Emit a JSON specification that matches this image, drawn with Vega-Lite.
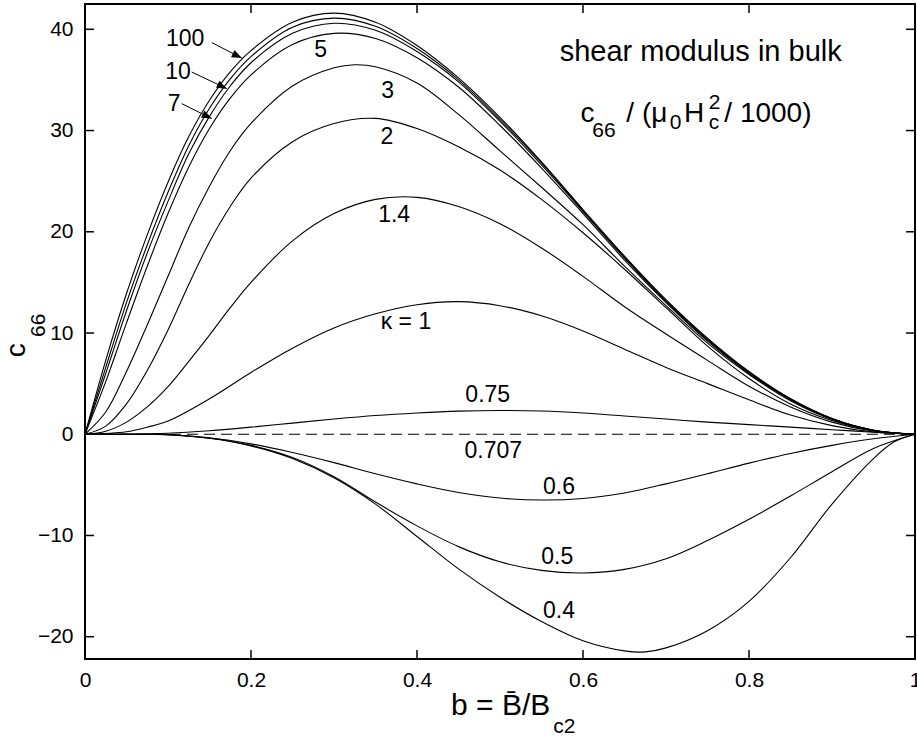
{
  "$schema": "https://vega.github.io/schema/vega-lite/v6.json",
  "width": 830,
  "height": 655,
  "autosize": {"type": "none"},
  "padding": {"left": 85, "top": 4, "right": 2, "bottom": 83},
  "background": "white",
  "config": {
    "view": {"stroke": "black", "strokeWidth": 2},
    "font": "Liberation Sans",
    "axis": {
      "grid": false,
      "domain": false,
      "labelColor": "black",
      "labelFont": "Liberation Sans",
      "labelFontSize": 21,
      "labelFlush": false,
      "labelOverlap": false
    }
  },
  "datasets": {
    "curves": [
      {"kappa": "100", "b": 0, "c": 0}, {"kappa": "100", "b": 0.025, "c": 7.3}, {"kappa": "100", "b": 0.05, "c": 13.9}, {"kappa": "100", "b": 0.075, "c": 19.7}, {"kappa": "100", "b": 0.1, "c": 24.9}, {"kappa": "100", "b": 0.125, "c": 29.4}, {"kappa": "100", "b": 0.15, "c": 33.0}, {"kappa": "100", "b": 0.175, "c": 35.8}, {"kappa": "100", "b": 0.2, "c": 37.9}, {"kappa": "100", "b": 0.25, "c": 40.7}, {"kappa": "100", "b": 0.3, "c": 41.6}, {"kappa": "100", "b": 0.35, "c": 40.7}, {"kappa": "100", "b": 0.4, "c": 38.4}, {"kappa": "100", "b": 0.45, "c": 35.2}, {"kappa": "100", "b": 0.5, "c": 31.3}, {"kappa": "100", "b": 0.55, "c": 26.9}, {"kappa": "100", "b": 0.6, "c": 22.2}, {"kappa": "100", "b": 0.65, "c": 17.6}, {"kappa": "100", "b": 0.7, "c": 13.3}, {"kappa": "100", "b": 0.75, "c": 9.5}, {"kappa": "100", "b": 0.8, "c": 6.2}, {"kappa": "100", "b": 0.85, "c": 3.5}, {"kappa": "100", "b": 0.9, "c": 1.55}, {"kappa": "100", "b": 0.95, "c": 0.4}, {"kappa": "100", "b": 1, "c": 0},
      {"kappa": "10", "b": 0, "c": 0}, {"kappa": "10", "b": 0.025, "c": 6.6}, {"kappa": "10", "b": 0.05, "c": 13.0}, {"kappa": "10", "b": 0.075, "c": 18.7}, {"kappa": "10", "b": 0.1, "c": 23.9}, {"kappa": "10", "b": 0.125, "c": 28.5}, {"kappa": "10", "b": 0.15, "c": 32.2}, {"kappa": "10", "b": 0.175, "c": 35.1}, {"kappa": "10", "b": 0.2, "c": 37.3}, {"kappa": "10", "b": 0.25, "c": 40.2}, {"kappa": "10", "b": 0.3, "c": 41.1}, {"kappa": "10", "b": 0.35, "c": 40.3}, {"kappa": "10", "b": 0.4, "c": 38.1}, {"kappa": "10", "b": 0.45, "c": 35.0}, {"kappa": "10", "b": 0.5, "c": 31.1}, {"kappa": "10", "b": 0.55, "c": 26.8}, {"kappa": "10", "b": 0.6, "c": 22.1}, {"kappa": "10", "b": 0.65, "c": 17.5}, {"kappa": "10", "b": 0.7, "c": 13.2}, {"kappa": "10", "b": 0.75, "c": 9.4}, {"kappa": "10", "b": 0.8, "c": 6.15}, {"kappa": "10", "b": 0.85, "c": 3.5}, {"kappa": "10", "b": 0.9, "c": 1.55}, {"kappa": "10", "b": 0.95, "c": 0.4}, {"kappa": "10", "b": 1, "c": 0},
      {"kappa": "7", "b": 0, "c": 0}, {"kappa": "7", "b": 0.025, "c": 6.0}, {"kappa": "7", "b": 0.05, "c": 12.2}, {"kappa": "7", "b": 0.075, "c": 17.9}, {"kappa": "7", "b": 0.1, "c": 23.0}, {"kappa": "7", "b": 0.125, "c": 27.7}, {"kappa": "7", "b": 0.15, "c": 31.4}, {"kappa": "7", "b": 0.175, "c": 34.4}, {"kappa": "7", "b": 0.2, "c": 36.7}, {"kappa": "7", "b": 0.25, "c": 39.6}, {"kappa": "7", "b": 0.3, "c": 40.6}, {"kappa": "7", "b": 0.35, "c": 39.9}, {"kappa": "7", "b": 0.4, "c": 37.8}, {"kappa": "7", "b": 0.45, "c": 34.8}, {"kappa": "7", "b": 0.5, "c": 30.9}, {"kappa": "7", "b": 0.55, "c": 26.6}, {"kappa": "7", "b": 0.6, "c": 22.0}, {"kappa": "7", "b": 0.65, "c": 17.4}, {"kappa": "7", "b": 0.7, "c": 13.1}, {"kappa": "7", "b": 0.75, "c": 9.3}, {"kappa": "7", "b": 0.8, "c": 6.1}, {"kappa": "7", "b": 0.85, "c": 3.45}, {"kappa": "7", "b": 0.9, "c": 1.52}, {"kappa": "7", "b": 0.95, "c": 0.39}, {"kappa": "7", "b": 1, "c": 0},
      {"kappa": "5", "b": 0, "c": 0}, {"kappa": "5", "b": 0.025, "c": 5.2}, {"kappa": "5", "b": 0.05, "c": 11.0}, {"kappa": "5", "b": 0.075, "c": 16.6}, {"kappa": "5", "b": 0.1, "c": 21.8}, {"kappa": "5", "b": 0.125, "c": 26.4}, {"kappa": "5", "b": 0.15, "c": 30.2}, {"kappa": "5", "b": 0.175, "c": 33.2}, {"kappa": "5", "b": 0.2, "c": 35.5}, {"kappa": "5", "b": 0.25, "c": 38.5}, {"kappa": "5", "b": 0.3, "c": 39.6}, {"kappa": "5", "b": 0.35, "c": 39.1}, {"kappa": "5", "b": 0.4, "c": 37.2}, {"kappa": "5", "b": 0.45, "c": 34.3}, {"kappa": "5", "b": 0.5, "c": 30.5}, {"kappa": "5", "b": 0.55, "c": 26.3}, {"kappa": "5", "b": 0.6, "c": 21.8}, {"kappa": "5", "b": 0.65, "c": 17.2}, {"kappa": "5", "b": 0.7, "c": 13.0}, {"kappa": "5", "b": 0.75, "c": 9.2}, {"kappa": "5", "b": 0.8, "c": 6.0}, {"kappa": "5", "b": 0.85, "c": 3.4}, {"kappa": "5", "b": 0.9, "c": 1.5}, {"kappa": "5", "b": 0.95, "c": 0.38}, {"kappa": "5", "b": 1, "c": 0},
      {"kappa": "3", "b": 0, "c": 0}, {"kappa": "3", "b": 0.025, "c": 2.2}, {"kappa": "3", "b": 0.05, "c": 6.2}, {"kappa": "3", "b": 0.075, "c": 10.8}, {"kappa": "3", "b": 0.1, "c": 15.6}, {"kappa": "3", "b": 0.125, "c": 20.4}, {"kappa": "3", "b": 0.15, "c": 24.5}, {"kappa": "3", "b": 0.175, "c": 28.0}, {"kappa": "3", "b": 0.2, "c": 30.7}, {"kappa": "3", "b": 0.25, "c": 34.4}, {"kappa": "3", "b": 0.3, "c": 36.2}, {"kappa": "3", "b": 0.325, "c": 36.5}, {"kappa": "3", "b": 0.35, "c": 36.3}, {"kappa": "3", "b": 0.4, "c": 34.7}, {"kappa": "3", "b": 0.45, "c": 31.6}, {"kappa": "3", "b": 0.5, "c": 28.0}, {"kappa": "3", "b": 0.55, "c": 24.4}, {"kappa": "3", "b": 0.6, "c": 20.7}, {"kappa": "3", "b": 0.65, "c": 16.6}, {"kappa": "3", "b": 0.7, "c": 12.7}, {"kappa": "3", "b": 0.75, "c": 9.0}, {"kappa": "3", "b": 0.8, "c": 5.9}, {"kappa": "3", "b": 0.85, "c": 3.3}, {"kappa": "3", "b": 0.9, "c": 1.45}, {"kappa": "3", "b": 0.95, "c": 0.37}, {"kappa": "3", "b": 1, "c": 0},
      {"kappa": "2", "b": 0, "c": 0}, {"kappa": "2", "b": 0.025, "c": 0.8}, {"kappa": "2", "b": 0.05, "c": 3.0}, {"kappa": "2", "b": 0.075, "c": 6.3}, {"kappa": "2", "b": 0.1, "c": 10.3}, {"kappa": "2", "b": 0.125, "c": 14.8}, {"kappa": "2", "b": 0.15, "c": 19.0}, {"kappa": "2", "b": 0.175, "c": 22.5}, {"kappa": "2", "b": 0.2, "c": 25.3}, {"kappa": "2", "b": 0.25, "c": 28.9}, {"kappa": "2", "b": 0.3, "c": 30.7}, {"kappa": "2", "b": 0.35, "c": 31.2}, {"kappa": "2", "b": 0.4, "c": 30.2}, {"kappa": "2", "b": 0.45, "c": 28.4}, {"kappa": "2", "b": 0.5, "c": 26.1}, {"kappa": "2", "b": 0.55, "c": 23.2}, {"kappa": "2", "b": 0.6, "c": 19.9}, {"kappa": "2", "b": 0.65, "c": 16.3}, {"kappa": "2", "b": 0.7, "c": 12.5}, {"kappa": "2", "b": 0.75, "c": 8.7}, {"kappa": "2", "b": 0.8, "c": 5.5}, {"kappa": "2", "b": 0.85, "c": 3.0}, {"kappa": "2", "b": 0.9, "c": 1.35}, {"kappa": "2", "b": 0.95, "c": 0.35}, {"kappa": "2", "b": 1, "c": 0},
      {"kappa": "1.4", "b": 0, "c": 0}, {"kappa": "1.4", "b": 0.025, "c": 0.3}, {"kappa": "1.4", "b": 0.05, "c": 1.2}, {"kappa": "1.4", "b": 0.075, "c": 2.7}, {"kappa": "1.4", "b": 0.1, "c": 4.7}, {"kappa": "1.4", "b": 0.125, "c": 7.2}, {"kappa": "1.4", "b": 0.15, "c": 9.8}, {"kappa": "1.4", "b": 0.175, "c": 12.5}, {"kappa": "1.4", "b": 0.2, "c": 15.0}, {"kappa": "1.4", "b": 0.25, "c": 19.1}, {"kappa": "1.4", "b": 0.3, "c": 21.8}, {"kappa": "1.4", "b": 0.35, "c": 23.2}, {"kappa": "1.4", "b": 0.4, "c": 23.4}, {"kappa": "1.4", "b": 0.45, "c": 22.5}, {"kappa": "1.4", "b": 0.5, "c": 20.8}, {"kappa": "1.4", "b": 0.55, "c": 18.4}, {"kappa": "1.4", "b": 0.6, "c": 15.6}, {"kappa": "1.4", "b": 0.65, "c": 12.6}, {"kappa": "1.4", "b": 0.7, "c": 9.9}, {"kappa": "1.4", "b": 0.75, "c": 7.3}, {"kappa": "1.4", "b": 0.8, "c": 4.75}, {"kappa": "1.4", "b": 0.85, "c": 2.7}, {"kappa": "1.4", "b": 0.9, "c": 1.2}, {"kappa": "1.4", "b": 0.95, "c": 0.3}, {"kappa": "1.4", "b": 1, "c": 0},
      {"kappa": "1", "b": 0, "c": 0}, {"kappa": "1", "b": 0.05, "c": 0.25}, {"kappa": "1", "b": 0.075, "c": 0.7}, {"kappa": "1", "b": 0.1, "c": 1.3}, {"kappa": "1", "b": 0.15, "c": 3.5}, {"kappa": "1", "b": 0.2, "c": 6.1}, {"kappa": "1", "b": 0.25, "c": 8.5}, {"kappa": "1", "b": 0.3, "c": 10.5}, {"kappa": "1", "b": 0.35, "c": 11.9}, {"kappa": "1", "b": 0.4, "c": 12.8}, {"kappa": "1", "b": 0.45, "c": 13.1}, {"kappa": "1", "b": 0.5, "c": 12.7}, {"kappa": "1", "b": 0.55, "c": 11.7}, {"kappa": "1", "b": 0.6, "c": 10.2}, {"kappa": "1", "b": 0.65, "c": 8.4}, {"kappa": "1", "b": 0.7, "c": 6.6}, {"kappa": "1", "b": 0.75, "c": 5.0}, {"kappa": "1", "b": 0.8, "c": 3.4}, {"kappa": "1", "b": 0.85, "c": 1.9}, {"kappa": "1", "b": 0.9, "c": 0.85}, {"kappa": "1", "b": 0.95, "c": 0.22}, {"kappa": "1", "b": 1, "c": 0},
      {"kappa": "0.75", "b": 0, "c": 0}, {"kappa": "0.75", "b": 0.05, "c": 0.0}, {"kappa": "0.75", "b": 0.1, "c": 0.1}, {"kappa": "0.75", "b": 0.15, "c": 0.35}, {"kappa": "0.75", "b": 0.2, "c": 0.7}, {"kappa": "0.75", "b": 0.25, "c": 1.1}, {"kappa": "0.75", "b": 0.3, "c": 1.5}, {"kappa": "0.75", "b": 0.35, "c": 1.85}, {"kappa": "0.75", "b": 0.4, "c": 2.1}, {"kappa": "0.75", "b": 0.45, "c": 2.28}, {"kappa": "0.75", "b": 0.5, "c": 2.35}, {"kappa": "0.75", "b": 0.55, "c": 2.3}, {"kappa": "0.75", "b": 0.6, "c": 2.1}, {"kappa": "0.75", "b": 0.65, "c": 1.8}, {"kappa": "0.75", "b": 0.7, "c": 1.5}, {"kappa": "0.75", "b": 0.75, "c": 1.2}, {"kappa": "0.75", "b": 0.8, "c": 0.95}, {"kappa": "0.75", "b": 0.85, "c": 0.7}, {"kappa": "0.75", "b": 0.9, "c": 0.45}, {"kappa": "0.75", "b": 0.95, "c": 0.2}, {"kappa": "0.75", "b": 1, "c": 0},
      {"kappa": "0.6", "b": 0, "c": 0}, {"kappa": "0.6", "b": 0.05, "c": 0}, {"kappa": "0.6", "b": 0.1, "c": -0.05}, {"kappa": "0.6", "b": 0.15, "c": -0.35}, {"kappa": "0.6", "b": 0.2, "c": -0.95}, {"kappa": "0.6", "b": 0.25, "c": -1.8}, {"kappa": "0.6", "b": 0.3, "c": -2.8}, {"kappa": "0.6", "b": 0.35, "c": -3.9}, {"kappa": "0.6", "b": 0.4, "c": -4.9}, {"kappa": "0.6", "b": 0.45, "c": -5.75}, {"kappa": "0.6", "b": 0.5, "c": -6.3}, {"kappa": "0.6", "b": 0.55, "c": -6.5}, {"kappa": "0.6", "b": 0.6, "c": -6.35}, {"kappa": "0.6", "b": 0.65, "c": -5.8}, {"kappa": "0.6", "b": 0.7, "c": -4.9}, {"kappa": "0.6", "b": 0.75, "c": -3.9}, {"kappa": "0.6", "b": 0.8, "c": -2.85}, {"kappa": "0.6", "b": 0.85, "c": -1.9}, {"kappa": "0.6", "b": 0.9, "c": -1.1}, {"kappa": "0.6", "b": 0.95, "c": -0.45}, {"kappa": "0.6", "b": 1, "c": 0},
      {"kappa": "0.5", "b": 0, "c": 0}, {"kappa": "0.5", "b": 0.05, "c": 0}, {"kappa": "0.5", "b": 0.1, "c": -0.05}, {"kappa": "0.5", "b": 0.15, "c": -0.4}, {"kappa": "0.5", "b": 0.2, "c": -1.1}, {"kappa": "0.5", "b": 0.25, "c": -2.3}, {"kappa": "0.5", "b": 0.3, "c": -4.2}, {"kappa": "0.5", "b": 0.35, "c": -6.7}, {"kappa": "0.5", "b": 0.4, "c": -9.05}, {"kappa": "0.5", "b": 0.45, "c": -11.1}, {"kappa": "0.5", "b": 0.5, "c": -12.6}, {"kappa": "0.5", "b": 0.55, "c": -13.45}, {"kappa": "0.5", "b": 0.6, "c": -13.7}, {"kappa": "0.5", "b": 0.65, "c": -13.35}, {"kappa": "0.5", "b": 0.7, "c": -12.3}, {"kappa": "0.5", "b": 0.75, "c": -10.5}, {"kappa": "0.5", "b": 0.8, "c": -8.4}, {"kappa": "0.5", "b": 0.85, "c": -6.1}, {"kappa": "0.5", "b": 0.9, "c": -3.7}, {"kappa": "0.5", "b": 0.95, "c": -1.4}, {"kappa": "0.5", "b": 1, "c": 0},
      {"kappa": "0.4", "b": 0, "c": 0}, {"kappa": "0.4", "b": 0.05, "c": 0}, {"kappa": "0.4", "b": 0.1, "c": -0.05}, {"kappa": "0.4", "b": 0.15, "c": -0.4}, {"kappa": "0.4", "b": 0.2, "c": -1.15}, {"kappa": "0.4", "b": 0.25, "c": -2.4}, {"kappa": "0.4", "b": 0.3, "c": -4.3}, {"kappa": "0.4", "b": 0.35, "c": -6.9}, {"kappa": "0.4", "b": 0.4, "c": -10.1}, {"kappa": "0.4", "b": 0.45, "c": -13.3}, {"kappa": "0.4", "b": 0.5, "c": -16.1}, {"kappa": "0.4", "b": 0.55, "c": -18.5}, {"kappa": "0.4", "b": 0.6, "c": -20.4}, {"kappa": "0.4", "b": 0.65, "c": -21.4}, {"kappa": "0.4", "b": 0.675, "c": -21.5}, {"kappa": "0.4", "b": 0.7, "c": -21.1}, {"kappa": "0.4", "b": 0.75, "c": -19.4}, {"kappa": "0.4", "b": 0.8, "c": -16.5}, {"kappa": "0.4", "b": 0.85, "c": -12.2}, {"kappa": "0.4", "b": 0.9, "c": -6.9}, {"kappa": "0.4", "b": 0.95, "c": -2.4}, {"kappa": "0.4", "b": 0.975, "c": -0.75}, {"kappa": "0.4", "b": 1, "c": 0}
    ],
    "dashed": [
      {"kappa": "0.707", "b": 0, "c": 0}, {"kappa": "0.707", "b": 1, "c": 0}
    ],
    "xticks": [{"v": 0.2}, {"v": 0.4}, {"v": 0.6}, {"v": 0.8}],
    "yticks": [{"v": -20}, {"v": -10}, {"v": 0}, {"v": 10}, {"v": 20}, {"v": 30}, {"v": 40}],
    "curveLabels": [
      {"text": "100", "b": 0.1206, "c": 39.06},
      {"text": "10", "b": 0.1121, "c": 35.78},
      {"text": "7", "b": 0.1073, "c": 32.64},
      {"text": "5", "b": 0.2839, "c": 37.97},
      {"text": "3", "b": 0.3647, "c": 33.88},
      {"text": "2", "b": 0.3637, "c": 29.36},
      {"text": "1.4", "b": 0.3725, "c": 21.63},
      {"text": "κ = 1", "b": 0.3867, "c": 11.1},
      {"text": "0.75", "b": 0.4852, "c": 3.86},
      {"text": "0.707", "b": 0.4919, "c": -1.67},
      {"text": "0.6", "b": 0.5711, "c": -5.19},
      {"text": "0.5", "b": 0.569, "c": -12.1},
      {"text": "0.4", "b": 0.5711, "c": -17.47}
    ],
    "arrows": [
      {"b": 0.1527, "c": 38.69, "b2": 0.1889, "c2": 37.16},
      {"b": 0.1286, "c": 35.78, "b2": 0.1708, "c2": 34.14},
      {"b": 0.1166, "c": 32.66, "b2": 0.1527, "c2": 31.18}
    ],
    "heading": [
      {"text": "shear modulus in bulk", "b": 0.7418, "c": 36.84}
    ],
    "unitsMain": [
      {"text": "c", "b": 0.5971, "c": 30.85},
      {"text": "/ (μ", "b": 0.6522, "c": 30.85},
      {"text": "H", "b": 0.7218, "c": 30.85},
      {"text": "/ 1000)", "b": 0.7703, "c": 30.85}
    ],
    "unitsSmall": [
      {"text": "66", "b": 0.6112, "c": 29.36},
      {"text": "0", "b": 0.7045, "c": 30.19},
      {"text": "2", "b": 0.7515, "c": 32.17},
      {"text": "c", "b": 0.7515, "c": 30.19},
      {"text": "c2", "b": 0.5642, "c": -29.54}
    ],
    "xTitle": [
      {"text": "b = B\u0304/B", "b": 0.5606, "c": -27.74}
    ],
    "yTitleMain": [
      {"text": "c", "b": -0.0723, "c": 8.3}
    ],
    "yTitleSub": [
      {"text": "66", "b": -0.0482, "c": 10.77}
    ]
  },
  "layer": [
    {
      "data": {"name": "curves"},
      "mark": {"type": "line", "color": "black", "strokeWidth": 1.1, "interpolate": "catmull-rom"},
      "encoding": {
        "x": {"field": "b", "type": "quantitative", "scale": {"domain": [0, 1], "nice": false, "zero": false},
              "axis": {"orient": "bottom", "values": [0, 0.2, 0.4, 0.6, 0.8, 1], "format": "~g", "ticks": false, "labelPadding": 10, "title": null}},
        "y": {"field": "c", "type": "quantitative", "scale": {"domain": [-22.2, 42.5], "nice": false, "zero": false},
              "axis": {"orient": "left", "values": [-20, -10, 0, 10, 20, 30, 40], "ticks": false, "labelPadding": 12, "title": null}},
        "detail": {"field": "kappa", "type": "nominal"}
      }
    },
    {
      "data": {"name": "dashed"},
      "mark": {"type": "line", "color": "black", "strokeWidth": 1.1, "strokeDash": [11, 6]},
      "encoding": {
        "x": {"field": "b", "type": "quantitative", "axis": {"orient": "top", "values": [0, 0.2, 0.4, 0.6, 0.8, 1], "labels": false, "ticks": true, "tickSize": 0, "tickOpacity": 0, "title": null}},
        "y": {"field": "c", "type": "quantitative", "axis": {"orient": "right", "values": [-20, -10, 0, 10, 20, 30, 40], "labels": false, "ticks": true, "tickSize": 0, "tickOpacity": 0, "title": null}}
      }
    },
    {
      "data": {"name": "xticks"},
      "mark": {"type": "rule", "color": "black", "strokeWidth": 1.5},
      "encoding": {
        "x": {"field": "v", "type": "quantitative", "axis": null},
        "y": {"datum": -22.2, "type": "quantitative", "axis": null},
        "y2": {"datum": -21.31}
      }
    },
    {
      "data": {"name": "xticks"},
      "mark": {"type": "rule", "color": "black", "strokeWidth": 1.5},
      "encoding": {
        "x": {"field": "v", "type": "quantitative", "axis": null},
        "y": {"datum": 42.5, "type": "quantitative", "axis": null},
        "y2": {"datum": 41.61}
      }
    },
    {
      "data": {"name": "yticks"},
      "mark": {"type": "rule", "color": "black", "strokeWidth": 1.5},
      "encoding": {
        "y": {"field": "v", "type": "quantitative", "axis": null},
        "x": {"datum": 0, "type": "quantitative", "axis": null},
        "x2": {"datum": 0.0108}
      }
    },
    {
      "data": {"name": "yticks"},
      "mark": {"type": "rule", "color": "black", "strokeWidth": 1.5},
      "encoding": {
        "y": {"field": "v", "type": "quantitative", "axis": null},
        "x": {"datum": 1, "type": "quantitative", "axis": null},
        "x2": {"datum": 0.9892}
      }
    },
    {
      "data": {"name": "arrows"},
      "mark": {"type": "rule", "color": "black", "strokeWidth": 1},
      "encoding": {
        "x": {"field": "b", "type": "quantitative", "axis": null},
        "y": {"field": "c", "type": "quantitative", "axis": null},
        "x2": {"field": "b2"},
        "y2": {"field": "c2"}
      }
    },
    {
      "data": {"name": "arrows"},
      "mark": {"type": "point", "shape": "M0,0 L-1,-0.4 L-1,0.4 Z", "filled": true, "fill": "black", "color": "black", "opacity": 1, "fillOpacity": 1, "size": 400, "angle": 26, "strokeWidth": 0},
      "encoding": {
        "x": {"field": "b2", "type": "quantitative", "axis": null},
        "y": {"field": "c2", "type": "quantitative", "axis": null}
      }
    },
    {
      "data": {"name": "curveLabels"},
      "mark": {"type": "text", "font": "Liberation Sans", "fontSize": 23, "align": "center", "baseline": "middle", "color": "black"},
      "encoding": {
        "x": {"field": "b", "type": "quantitative", "axis": null},
        "y": {"field": "c", "type": "quantitative", "axis": null},
        "text": {"field": "text"}
      }
    },
    {
      "data": {"name": "heading"},
      "mark": {"type": "text", "font": "Liberation Sans", "fontSize": 29, "align": "center", "baseline": "alphabetic", "color": "black"},
      "encoding": {
        "x": {"field": "b", "type": "quantitative", "axis": null},
        "y": {"field": "c", "type": "quantitative", "axis": null},
        "text": {"field": "text"}
      }
    },
    {
      "data": {"name": "unitsMain"},
      "mark": {"type": "text", "font": "Liberation Sans", "fontSize": 28, "align": "left", "baseline": "alphabetic", "color": "black"},
      "encoding": {
        "x": {"field": "b", "type": "quantitative", "axis": null},
        "y": {"field": "c", "type": "quantitative", "axis": null},
        "text": {"field": "text"}
      }
    },
    {
      "data": {"name": "unitsSmall"},
      "mark": {"type": "text", "font": "Liberation Sans", "fontSize": 21, "align": "left", "baseline": "alphabetic", "color": "black"},
      "encoding": {
        "x": {"field": "b", "type": "quantitative", "axis": null},
        "y": {"field": "c", "type": "quantitative", "axis": null},
        "text": {"field": "text"}
      }
    },
    {
      "data": {"name": "xTitle"},
      "mark": {"type": "text", "font": "Liberation Sans", "fontSize": 30, "align": "right", "baseline": "alphabetic", "color": "black"},
      "encoding": {
        "x": {"field": "b", "type": "quantitative", "axis": null},
        "y": {"field": "c", "type": "quantitative", "axis": null},
        "text": {"field": "text"}
      }
    },
    {
      "data": {"name": "yTitleMain"},
      "mark": {"type": "text", "font": "Liberation Sans", "fontSize": 28, "align": "center", "baseline": "alphabetic", "angle": 270, "color": "black"},
      "encoding": {
        "x": {"field": "b", "type": "quantitative", "axis": null},
        "y": {"field": "c", "type": "quantitative", "axis": null},
        "text": {"field": "text"}
      }
    },
    {
      "data": {"name": "yTitleSub"},
      "mark": {"type": "text", "font": "Liberation Sans", "fontSize": 21, "align": "center", "baseline": "alphabetic", "angle": 270, "color": "black"},
      "encoding": {
        "x": {"field": "b", "type": "quantitative", "axis": null},
        "y": {"field": "c", "type": "quantitative", "axis": null},
        "text": {"field": "text"}
      }
    }
  ]
}
